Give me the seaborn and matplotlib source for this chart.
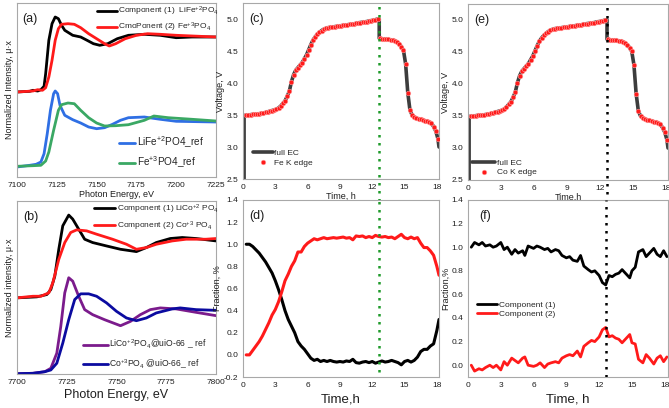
import numpy as np
import pandas as pd
import matplotlib
matplotlib.use("Agg")
import matplotlib.pyplot as plt
import seaborn as sns

# ---------------- data ----------------
# (a) Fe K-edge XANES (arbitrary normalized units, curves offset as in figure)
a_energy_c1 = [7100, 7108, 7110, 7113, 7115, 7117, 7118, 7119, 7120, 7122, 7124, 7126, 7128, 7130,
               7135, 7140, 7144, 7148, 7152, 7157, 7163, 7170, 7180, 7190, 7200, 7210, 7225]
a_comp1 = [0.85, 0.857, 0.867, 0.86, 0.873, 0.907, 1.033, 1.2, 1.367, 1.533, 1.6, 1.583, 1.517, 1.467,
           1.417, 1.4, 1.367, 1.333, 1.317, 1.333, 1.383, 1.417, 1.427, 1.417, 1.393, 1.4, 1.4]
a_energy_c2 = [7100, 7110, 7113, 7116, 7118, 7120, 7122, 7124, 7126, 7128, 7132, 7136, 7140, 7145,
               7150, 7155, 7158, 7162, 7168, 7175, 7182, 7190, 7200, 7225]
a_comp2 = [0.85, 0.86, 0.873, 0.867, 0.893, 1.0, 1.167, 1.367, 1.483, 1.527, 1.533, 1.527, 1.493, 1.433,
           1.383, 1.333, 1.31, 1.333, 1.383, 1.417, 1.433, 1.427, 1.417, 1.4]
a_energy_r1 = [7100, 7108, 7112, 7115, 7117, 7119, 7121, 7123, 7124, 7125.5, 7127, 7130, 7135, 7140,
               7145, 7150, 7155, 7160, 7165, 7170, 7180, 7190, 7200, 7225]
a_ref1 = [0.1, 0.117, 0.127, 0.15, 0.233, 0.433, 0.667, 0.833, 0.86, 0.833, 0.717, 0.617, 0.573, 0.54,
          0.5, 0.483, 0.493, 0.527, 0.567, 0.593, 0.6, 0.577, 0.557, 0.55]
a_energy_r2 = [7100, 7110, 7115, 7118, 7120, 7123, 7126, 7128, 7132, 7136, 7140, 7145, 7150, 7155,
               7162, 7170, 7180, 7186, 7195, 7210, 7225]
a_ref2 = [0.107, 0.113, 0.117, 0.16, 0.25, 0.467, 0.667, 0.723, 0.74, 0.733, 0.667, 0.593, 0.54, 0.51,
          0.513, 0.523, 0.567, 0.61, 0.593, 0.577, 0.56]

# (b) Co K-edge XANES
b_energy_c1 = [7700, 7710, 7715, 7717, 7719, 7721, 7723, 7726, 7728, 7731, 7734, 7738, 7745, 7752,
               7760, 7765, 7770, 7777, 7783, 7790, 7800]
b_comp1 = [0.757, 0.767, 0.79, 0.84, 0.973, 1.24, 1.473, 1.58, 1.54, 1.44, 1.34, 1.307, 1.273, 1.24,
           1.217, 1.257, 1.307, 1.347, 1.357, 1.347, 1.323]
b_energy_c2 = [7700, 7708, 7712, 7716, 7718, 7721, 7724, 7727, 7730, 7735, 7740, 7748, 7755, 7760,
               7765, 7770, 7778, 7785, 7795, 7800]
b_comp2 = [0.757, 0.773, 0.773, 0.807, 0.907, 1.14, 1.307, 1.407, 1.433, 1.423, 1.39, 1.34, 1.29, 1.24,
           1.257, 1.29, 1.323, 1.34, 1.34, 1.347]
b_energy_r1 = [7700, 7708, 7714, 7717, 7720, 7722, 7724, 7726, 7728, 7731, 7734, 7738, 7744, 7752,
               7757, 7762, 7767, 7772, 7780, 7790, 7800]
b_ref1 = [0.003, 0.007, 0.023, 0.057, 0.207, 0.473, 0.807, 0.957, 0.923, 0.773, 0.64, 0.59, 0.54, 0.48,
          0.523, 0.59, 0.64, 0.657, 0.647, 0.613, 0.58]
b_energy_r2 = [7700, 7708, 7714, 7717, 7720, 7723, 7726, 7729, 7732, 7736, 7740, 7745, 7750, 7755,
               7760, 7765, 7770, 7778, 7782, 7790, 7800]
b_ref2 = [0.003, 0.007, 0.023, 0.04, 0.107, 0.307, 0.54, 0.74, 0.797, 0.797, 0.773, 0.707, 0.623, 0.557,
          0.53, 0.557, 0.607, 0.647, 0.657, 0.64, 0.633]

# (c)/(e) electrochemistry: XAS sampling points on the voltage curve
xas_time = [0.3, 0.5, 0.7, 0.9, 1.1, 1.3, 1.5, 1.7, 1.9, 2.1, 2.3, 2.5, 2.7, 2.9, 3.1, 3.3, 3.5, 3.7, 3.9, 4.1,
            4.3, 4.5, 4.7, 4.9, 5.1, 5.3, 5.5, 5.7, 5.9, 6.1, 6.3, 6.5, 6.7, 6.9, 7.1, 7.3, 7.5, 7.7, 7.9, 8.1,
            8.3, 8.5, 8.7, 8.9, 9.1, 9.3, 9.5, 9.7, 9.9, 10.1, 10.3, 10.5, 10.7, 10.9, 11.1, 11.3, 11.5, 11.7,
            11.9, 12.1, 12.3, 12.5,
            12.7, 12.9, 13.1, 13.3, 13.5, 13.7, 13.9, 14.1, 14.3, 14.5, 14.7, 14.9, 15.1, 15.3, 15.5, 15.7,
            15.9, 16.1, 16.3, 16.5, 16.7, 16.9, 17.1, 17.3, 17.5, 17.7, 17.9, 18.1]
xas_volt = [3.50, 3.50, 3.505, 3.51, 3.51, 3.515, 3.52, 3.525, 3.53, 3.54, 3.55, 3.56, 3.57, 3.58, 3.59, 3.61,
            3.64, 3.68, 3.72, 3.79, 3.87, 4.02, 4.13, 4.20, 4.24, 4.28, 4.32, 4.38, 4.44, 4.52, 4.60, 4.67,
            4.72, 4.76, 4.79, 4.82, 4.84, 4.855, 4.865, 4.87, 4.875, 4.88, 4.885, 4.89, 4.895, 4.90, 4.905,
            4.91, 4.915, 4.92, 4.925, 4.93, 4.94, 4.945, 4.95, 4.955, 4.96, 4.97, 4.975, 4.98, 4.99, 5.00,
            4.70, 4.69, 4.69, 4.685, 4.68, 4.675, 4.67, 4.66, 4.64, 4.61, 4.57, 4.51, 4.30, 3.85, 3.58, 3.50,
            3.47, 3.45, 3.44, 3.43, 3.42, 3.41, 3.40, 3.39, 3.37, 3.32, 3.25, 3.13]
# extra points of the full EC curve (start, relaxation step, end)
ec_extra_time = [0.1, 0.1, 12.65, 12.65, 18.2]
ec_extra_volt = [2.5, 3.49, 5.0, 4.70, 3.0]
switch_time = 12.65

# (d) Fe fractions
d_time = [0.3, 0.6, 0.9, 1.2, 1.5, 1.8, 2.1, 2.4, 2.7, 3.0, 3.3, 3.6, 3.9, 4.2, 4.5, 4.8, 5.1, 5.4, 5.7, 6.0,
          6.3, 6.6, 6.9, 7.2, 7.5, 7.8, 8.1, 8.4, 8.7, 9.0, 9.3, 9.6, 9.9, 10.2, 10.5, 10.8, 11.1, 11.4, 11.7,
          12.0, 12.3, 12.6, 12.9, 13.2, 13.5, 13.8, 14.1, 14.4, 14.7, 15.0, 15.3, 15.6, 15.9, 16.2, 16.5,
          16.8, 17.1, 17.4, 17.7, 18.0, 18.2]
d_comp1 = [1.0, 1.0, 0.98, 0.95, 0.92, 0.88, 0.84, 0.79, 0.74, 0.67, 0.59, 0.50, 0.40, 0.32, 0.26, 0.20, 0.12,
           0.08, 0.05, 0.01, -0.03, -0.05, -0.04, -0.06, -0.05, -0.06, -0.05, -0.06, -0.065, -0.06, -0.065,
           -0.055, -0.06, -0.04, -0.07, -0.075, -0.065, -0.06, -0.07, -0.06, -0.075, -0.065, -0.055, -0.065,
           -0.06, -0.05, -0.06, -0.07, -0.09, -0.06, -0.05, -0.065, -0.05, -0.02, 0.03, 0.05, 0.05, 0.08,
           0.10, 0.22, 0.32]
d_comp2 = [0.0, 0.0, 0.04, 0.08, 0.12, 0.17, 0.23, 0.29, 0.36, 0.41, 0.48, 0.57, 0.67, 0.73, 0.80, 0.85, 0.93,
           0.93, 0.98, 1.01, 1.03, 1.05, 1.04, 1.05, 1.06, 1.05, 1.055, 1.06, 1.055, 1.06, 1.065, 1.055, 1.06,
           1.04, 1.075, 1.07, 1.075, 1.06, 1.07, 1.06, 1.08, 1.07, 1.065, 1.07, 1.06, 1.065, 1.05, 1.07, 1.09,
           1.06, 1.05, 1.065, 1.05, 1.06, 1.01, 0.97, 0.97, 0.94, 0.90, 0.80, 0.72]

# (f) Co fractions
f_time = [0.3, 0.6, 1.0, 1.3, 1.6, 2.0, 2.3, 2.6, 3.0, 3.3, 3.6, 4.0, 4.3, 4.6, 5.0, 5.2, 5.5, 6.0, 6.3, 6.6,
          7.0, 7.3, 7.6, 8.0, 8.3, 8.6, 9.0, 9.3, 9.6, 10.0, 10.3, 10.6, 11.0, 11.3, 11.6, 12.0, 12.3, 12.6,
          12.9, 13.2, 13.5, 13.8, 14.1, 14.4, 14.8, 15.0, 15.3, 15.6, 16.0, 16.3, 16.6, 17.0, 17.3, 17.6,
          17.9, 18.2]
f_comp1 = [1.0, 1.04, 1.02, 1.04, 1.01, 1.02, 1.0, 1.01, 1.04, 0.98, 1.0, 0.94, 0.98, 0.95, 0.97, 0.93, 1.01,
           0.99, 1.01, 1.0, 0.98, 0.99, 0.96, 0.98, 0.97, 0.93, 0.91, 0.92, 0.89, 0.88, 0.93, 0.84, 0.81,
           0.79, 0.80, 0.76, 0.70, 0.68, 0.76, 0.75, 0.77, 0.78, 0.81, 0.78, 0.74, 0.80, 0.83, 0.96, 0.98,
           0.92, 0.95, 0.99, 0.94, 0.92, 0.97, 0.92]
f_comp2 = [0.0, -0.05, -0.03, -0.04, -0.02, 0.0, -0.02, 0.0, -0.04, 0.03, 0.0, 0.06, 0.04, 0.02, 0.06, 0.07,
           0.0, -0.01, 0.0, 0.02, -0.02, 0.01, 0.02, 0.03, 0.02, 0.06, 0.08, 0.09, 0.08, 0.12, 0.07, 0.16,
           0.19, 0.21, 0.20, 0.24, 0.30, 0.32, 0.24, 0.25, 0.23, 0.22, 0.19, 0.22, 0.26, 0.19, 0.18, 0.05,
           0.02, 0.09, 0.06, 0.01, 0.06, 0.08, 0.03, 0.07]

# ---------------- style ----------------
sns.set_theme(style="white")
plt.rcParams["font.family"] = ["Liberation Sans", "DejaVu Sans"]
plt.rcParams["mathtext.default"] = "regular"
plt.rcParams["axes.unicode_minus"] = False

SPINE = "#a8a8a8"
TXT = "#1e1e1e"
RED = "#ff1a1a"

fig = plt.figure(figsize=(6.69, 4.08), dpi=100)
W, H = 669.0, 408.0


def add_ax(l, r, t, b):
    return fig.add_axes([l / W, 1 - b / H, (r - l) / W, (b - t) / H])


ax_a = add_ax(17, 216, 3, 177)
ax_b = add_ax(17, 216, 201, 374)
ax_c = add_ax(243, 439, 3, 179)
ax_d = add_ax(243, 439, 200, 377)
ax_e = add_ax(468, 668, 4, 180)
ax_f = add_ax(468, 668, 200, 377)

for ax in [ax_a, ax_b, ax_c, ax_d, ax_e, ax_f]:
    for s in ax.spines.values():
        s.set_color(SPINE)
        s.set_linewidth(0.8)
    ax.tick_params(axis="both", which="major", direction="out", length=2, width=0.6,
                   color=SPINE, labelsize=6, labelcolor=TXT, pad=1.5)


def line(ax, x, y, color, lw, label=None):
    df = pd.DataFrame({"x": x, "y": y})
    sns.lineplot(data=df, x="x", y="y", ax=ax, color=color, lw=lw, sort=False,
                 estimator=None, label=label, legend=False)


# ---- (a) ----
line(ax_a, a_energy_c1, a_comp1, "black", 2.0, "Component (1)  LiFe$^{+2}$PO$_4$")
line(ax_a, a_energy_c2, a_comp2, RED, 2.0, "CmoPonent (2) Fe$^{+3}$PO$_4$")
line(ax_a, a_energy_r1, a_ref1, "#2f6fe4", 2.0, "LiFe$^{+2}$PO4_ref")
line(ax_a, a_energy_r2, a_ref2, "#3aa864", 2.0, "Fe$^{+3}$PO4_ref")
ax_a.set_xlim(7100, 7225)
ax_a.set_ylim(0, 1.74)
ax_a.set_xticks([7100, 7125, 7150, 7175, 7200, 7225])
ax_a.set_yticks([])
ax_a.set_xlabel("Photon Energy, eV", fontsize=6.5, color=TXT, labelpad=1)
ax_a.set_ylabel("Normalized Intensity, μ·x", fontsize=6.5, color=TXT, labelpad=2)
h, l = ax_a.get_legend_handles_labels()
leg1 = ax_a.legend(h[:2], l[:2], loc="center left", bbox_to_anchor=(0.40, 0.905), frameon=False,
                   fontsize=6, handlelength=2.4, handletextpad=0.15, labelspacing=0.3,
                   borderpad=0, borderaxespad=0)
ax_a.add_artist(leg1)
ax_a.legend(h[2:], l[2:], loc="center left", bbox_to_anchor=(0.515, 0.14), frameon=False,
            fontsize=7.2, handlelength=1.6, handletextpad=0.2, labelspacing=0.45,
            borderpad=0, borderaxespad=0)
ax_a.text(0.025, 0.91, "(a)", transform=ax_a.transAxes, fontsize=9, color=TXT, va="center")

# ---- (b) ----
line(ax_b, b_energy_c1, b_comp1, "black", 2.0, "Component (1) LiCo$^{+2}$ PO$_4$")
line(ax_b, b_energy_c2, b_comp2, RED, 2.0, "Component (2) Co$^{+3}$ PO$_4$")
line(ax_b, b_energy_r1, b_ref1, "#7b1b8c", 2.0, "LiCo$^{+2}$PO$_4$@uiO-66 _ ref")
line(ax_b, b_energy_r2, b_ref2, "#0b0ba0", 2.0, "Co$^{+3}$PO$_4$ @uiO-66_ ref")
ax_b.set_xlim(7700, 7800)
ax_b.set_ylim(0, 1.72)
ax_b.set_xticks([7700, 7725, 7750, 7775, 7800])
ax_b.set_yticks([])
ax_b.set_xlabel("Photon Energy, eV", fontsize=9, color=TXT, labelpad=2)
ax_b.set_ylabel("Normalized intensity, μ·x", fontsize=6.5, color=TXT, labelpad=2)
h, l = ax_b.get_legend_handles_labels()
leg1 = ax_b.legend(h[:2], l[:2], loc="center left", bbox_to_anchor=(0.385, 0.905), frameon=False,
                   fontsize=6, handlelength=2.6, handletextpad=0.15, labelspacing=0.45,
                   borderpad=0, borderaxespad=0)
ax_b.add_artist(leg1)
ax_b.legend(h[2:], l[2:], loc="center left", bbox_to_anchor=(0.33, 0.113), frameon=False,
            fontsize=6.2, handlelength=2.9, handletextpad=0.2, labelspacing=0.7,
            borderpad=0, borderaxespad=0)
ax_b.text(0.03, 0.91, "(b)", transform=ax_b.transAxes, fontsize=9, color=TXT, va="center")

# ---- EC panels (c), (e) ----
ec_time = np.array(ec_extra_time[:2] + xas_time[:62] + ec_extra_time[2:4] + xas_time[62:] + ec_extra_time[4:])
ec_volt = np.array(ec_extra_volt[:2] + xas_volt[:62] + ec_extra_volt[2:4] + xas_volt[62:] + ec_extra_volt[4:])


def ec_panel(ax, edge_label, xlabel, tag, vcolor):
    line(ax, ec_time, ec_volt, "#3d3d3d", 2.6, "full EC")
    sns.scatterplot(x=xas_time, y=xas_volt, ax=ax, color=RED, s=11, edgecolor="#ff9c9c",
                    linewidth=0.4, label=edge_label, legend=False, zorder=3)
    ax.set_xlim(0, 18.2)
    ax.set_ylim(2.5, 5.25)
    ax.set_xticks([0, 3, 6, 9, 12, 15, 18])
    ax.set_yticks([2.5, 3.0, 3.5, 4.0, 4.5, 5.0])
    ax.set_yticklabels(["2.5", "3.0", "3.5", "4.0", "4.5", "5.0"])
    ax.set_xlabel(xlabel, fontsize=6.5, color=TXT, labelpad=0.5)
    ax.set_ylabel("Voltage, V", fontsize=6.5, color=TXT, labelpad=1)
    ax.text(0.03, 0.91, tag, transform=ax.transAxes, fontsize=9, color=TXT, va="center")
    ax.axvline(switch_time, ymin=-0.125, ymax=1.0, clip_on=False, color=vcolor, lw=1.8,
               ls=(0, (1, 2.2)), zorder=4)


ec_panel(ax_c, "Fe K edge", "Time, h", "(c)", "#1f9a2a")
ax_c.legend(loc="center left", bbox_to_anchor=(0.05, 0.12), frameon=False, fontsize=6,
            handlelength=2.4, handletextpad=0.2, labelspacing=0.2, borderpad=0, borderaxespad=0)
ec_panel(ax_e, "Co K edge", "Time,h", "(e)", "black")
ax_e.legend(loc="center left", bbox_to_anchor=(0.02, 0.07), frameon=False, fontsize=6,
            handlelength=2.8, handletextpad=0.2, labelspacing=0.2, borderpad=0, borderaxespad=0)

# ---- (d) ----
line(ax_d, d_time, d_comp1, "black", 2.2)
line(ax_d, d_time, d_comp2, RED, 2.2)
ax_d.set_xlim(0, 18.2)
ax_d.set_ylim(-0.2, 1.4)
ax_d.set_xticks([0, 3, 6, 9, 12, 15, 18])
ax_d.set_yticks(np.round(np.arange(-0.2, 1.41, 0.2), 1))
ax_d.set_yticklabels(["-0.2", "0.0", "0.2", "0.4", "0.6", "0.8", "1.0", "1.2", "1.4"])
ax_d.set_xlabel("Time,h", fontsize=9.5, color=TXT, labelpad=3)
ax_d.set_ylabel("Fraction, %", fontsize=6.5, color=TXT, labelpad=1)
ax_d.text(0.03, 0.91, "(d)", transform=ax_d.transAxes, fontsize=9, color=TXT, va="center")
ax_d.axvline(switch_time, ymin=0.03, ymax=1.0, color="#1f9a2a", lw=1.8, ls=(0, (1, 2.2)), zorder=4)

# ---- (f) ----
line(ax_f, f_time, f_comp1, "black", 2.0, "Component (1)")
line(ax_f, f_time, f_comp2, RED, 2.0, "Component (2)")
ax_f.set_xlim(0, 18.3)
ax_f.set_ylim(-0.1, 1.4)
ax_f.set_xticks([0, 3, 6, 9, 12, 15, 18])
ax_f.set_yticks(np.round(np.arange(0.0, 1.41, 0.2), 1))
ax_f.set_yticklabels(["0.0", "0.2", "0.4", "0.6", "0.8", "1.0", "1.2", "1.4"])
ax_f.set_xlabel("Time, h", fontsize=9.5, color=TXT, labelpad=3)
ax_f.set_ylabel("Fraction,%", fontsize=6.5, color=TXT, labelpad=1)
ax_f.text(0.055, 0.91, "(f)", transform=ax_f.transAxes, fontsize=9, color=TXT, va="center")
ax_f.axvline(switch_time, ymin=0.0, ymax=1.0, color="black", lw=1.8, ls=(0, (1, 2.2)), zorder=4)
ax_f.legend(loc="center left", bbox_to_anchor=(0.045, 0.38), frameon=False, fontsize=6,
            handlelength=2.4, handletextpad=0.2, labelspacing=0.2, borderpad=0, borderaxespad=0)

fig.savefig("out.png", dpi=100)
